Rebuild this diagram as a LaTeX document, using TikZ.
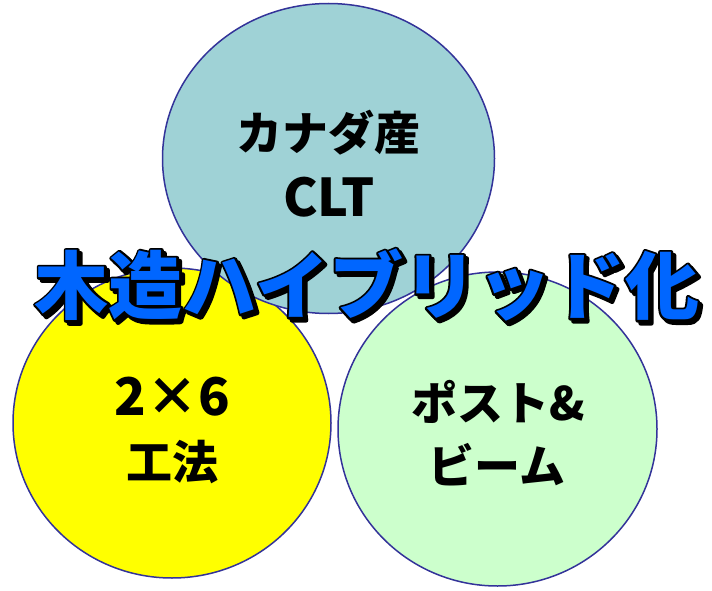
\documentclass[tikz,border=0pt]{standalone}
\usepackage{fontspec}
\usetikzlibrary{shapes.geometric,calc}
\newfontfamily\jp{Noto Sans CJK JP}
\definecolor{cteal}{HTML}{9FD2D6}
\definecolor{cyel}{HTML}{FFFF00}
\definecolor{cgreen}{HTML}{CCFFCC}
\definecolor{cedge}{HTML}{333399}
\definecolor{cblue}{HTML}{0066FF}
\newcommand{\mytitle}{木造ハイブリッド化}
\newcommand{\strokedtext}[1]{\special{pdf:literal direct 2 Tr 4.4 w 1 j 0 0 0 RG 0 0 0 rg}#1\special{pdf:literal direct 0 Tr}}
\begin{document}
\begin{tikzpicture}[x=1pt,y=-1pt,
  bubble/.style={ellipse,draw=cedge,line width=1.5pt,inner sep=0pt,outer sep=0pt},
  lbl/.style={font=\jp\bfseries\fontsize{46}{50}\selectfont,text=black,inner sep=0pt,anchor=center},
  lbllat/.style={font=\jp\bfseries\fontsize{52}{56}\selectfont,text=black,inner sep=0pt,anchor=center},
  ttl/.style={font=\jp\bfseries\fontsize{74}{80}\selectfont,inner sep=0pt,anchor=center}]
\path[use as bounding box] (0,0) rectangle (712,591);
% circles
\node[bubble,fill=cyel,minimum width=318pt,minimum height=310pt] (left) at (172,423) {};
\node[bubble,fill=cgreen,minimum width=319pt,minimum height=314pt] (right) at (497.5,429) {};
\node[bubble,fill=cteal,minimum width=332pt,minimum height=310pt] (top) at (328.5,158.5) {};
% labels
\node[lbl] (t1) at (328,133) {カナダ産};
\node[lbllat] (t2) at (329,197) {CLT};
\node[lbllat] (l1) at (172,397) {2×6};
\node[lbl] (l2) at (172,462) {工法};
\node[lbl] (r1) at (498,402) {ポスト\&};
\node[lbl] (r2) at (497,465) {ビーム};
% title: shadow, outline, fill
\coordinate (tc) at (367,285);
\node[ttl,text=black] (tshadow) at ($(tc)+(3,3)$) {\strokedtext{\mytitle}};
\node[ttl,text=black] (toutline) at (tc) {\strokedtext{\mytitle}};
\node[ttl,text=cblue] (title) at (tc) {\mytitle};
\end{tikzpicture}
\end{document}
